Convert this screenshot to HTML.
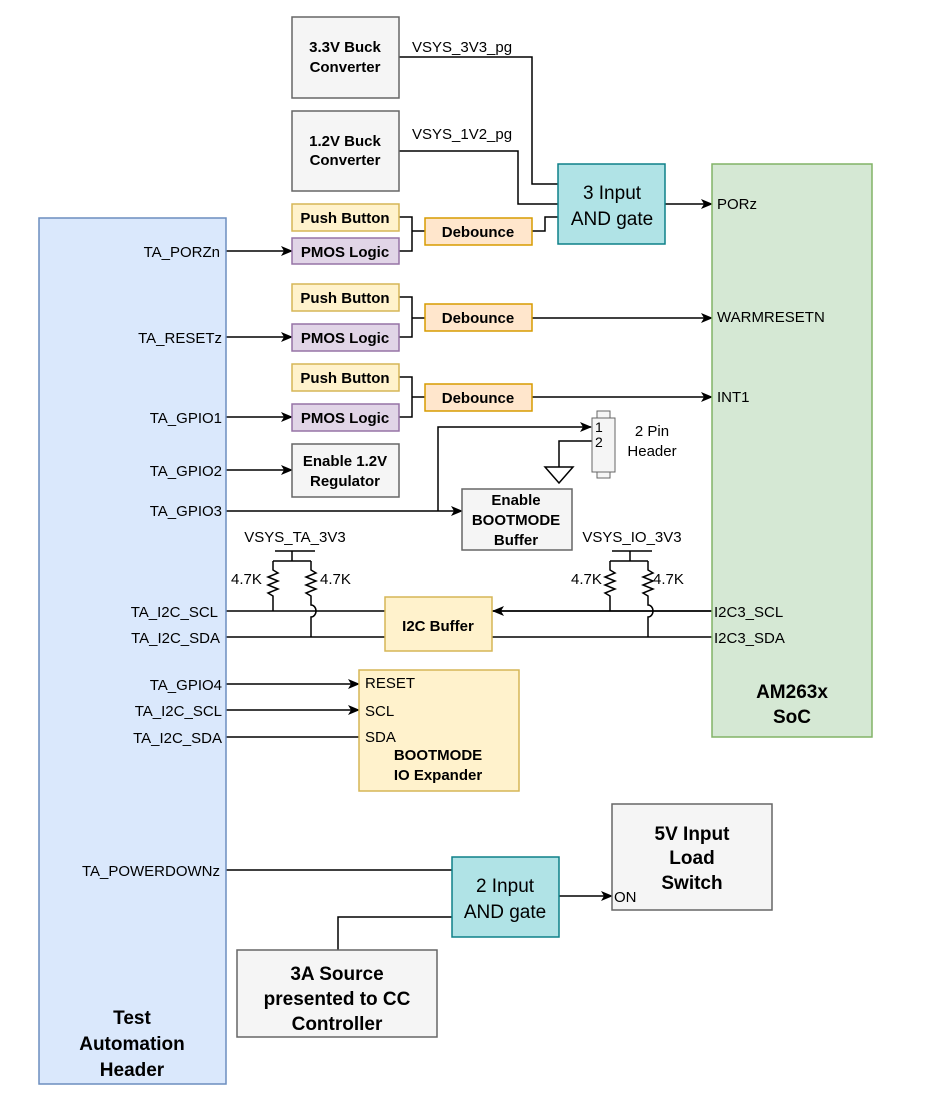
<!DOCTYPE html>
<html><head><meta charset="utf-8"><style>
html,body{margin:0;padding:0;background:#fff;}
svg{display:block;font-family:"Liberation Sans",Arial,sans-serif;}
.l{font-size:15px;fill:#000;}
.b{font-size:15px;font-weight:bold;fill:#000;}
.B{font-size:19px;font-weight:bold;fill:#000;}
</style></head><body>
<svg width="937" height="1098" viewBox="0 0 937 1098" xmlns="http://www.w3.org/2000/svg">
<defs><marker id="a" markerWidth="12" markerHeight="12" refX="11" refY="6" orient="auto" markerUnits="userSpaceOnUse"><path d="M0,1 L12,6 L0,11 L3,6 Z" fill="#000"/></marker></defs>
<g stroke="#000" stroke-width="1.5" fill="none">
<path d="M399,57 H532 V184 H558"/>
<path d="M399,151 H518 V204 H558"/>
<path d="M665,204 H712" marker-end="url(#a)"/>
<path d="M399,217 H412 V251 H399 M412,231 H425"/>
<path d="M532,231 H545 V217 H558"/>
<path d="M226,251 H292" marker-end="url(#a)"/>
<path d="M399,297 H412 V337 H399 M412,318 H425"/>
<path d="M532,318 H712" marker-end="url(#a)"/>
<path d="M226,337 H292" marker-end="url(#a)"/>
<path d="M399,377 H412 V417 H399 M412,397 H425"/>
<path d="M532,397 H712" marker-end="url(#a)"/>
<path d="M226,417 H292" marker-end="url(#a)"/>
<path d="M226,470 H292" marker-end="url(#a)"/>
<path d="M226,511 H462" marker-end="url(#a)"/>
<path d="M438,511 V427 H591" marker-end="url(#a)"/>
<path d="M592,441 H559 V467"/>
<path d="M545,467 H573 L559,483 Z"/>
<path d="M226,611 H385 M492,611 H712"/>
<path d="M712,611 H493" marker-end="url(#a)"/>
<path d="M226,637 H712"/>
<path d="M275,551 H315 M292,551 V561 M273,561 H311"/>
<path d="M273,561 V570 l5,3 -10,4 10,4 -10,4 10,4 -10,4 5,3 V611"/>
<path d="M311,561 V570 l5,3 -10,4 10,4 -10,4 10,4 -10,4 5,3 V605 a5,6 0 0 1 0,12 V637"/>
<path d="M612,551 H652 M630,551 V561 M610,561 H648"/>
<path d="M610,561 V570 l5,3 -10,4 10,4 -10,4 10,4 -10,4 5,3 V611"/>
<path d="M648,561 V570 l5,3 -10,4 10,4 -10,4 10,4 -10,4 5,3 V605 a5,6 0 0 1 0,12 V637"/>
<path d="M226,684 H359" marker-end="url(#a)"/>
<path d="M226,710 H359" marker-end="url(#a)"/>
<path d="M226,737 H359"/>
<path d="M226,870 H452"/>
<path d="M338,950 V917 H452"/>
<path d="M559,896 H612" marker-end="url(#a)"/>
</g>
<g stroke-width="1.5">
<rect x="39" y="218" width="187" height="866" fill="#dae8fc" stroke="#6c8ebf"/>
<rect x="712" y="164" width="160" height="573" fill="#d5e8d4" stroke="#82b366"/>
<rect x="292" y="17" width="107" height="81" fill="#f5f5f5" stroke="#666"/>
<rect x="292" y="111" width="107" height="80" fill="#f5f5f5" stroke="#666"/>
<rect x="558" y="164" width="107" height="80" fill="#b0e3e6" stroke="#0e8088"/>
<rect x="292" y="204" width="107" height="27" fill="#fff2cc" stroke="#d6b656"/>
<rect x="292" y="238" width="107" height="26" fill="#e1d5e7" stroke="#9673a6"/>
<rect x="425" y="218" width="107" height="27" fill="#ffe6cc" stroke="#d79b00"/>
<rect x="292" y="284" width="107" height="27" fill="#fff2cc" stroke="#d6b656"/>
<rect x="292" y="324" width="107" height="27" fill="#e1d5e7" stroke="#9673a6"/>
<rect x="425" y="304" width="107" height="27" fill="#ffe6cc" stroke="#d79b00"/>
<rect x="292" y="364" width="107" height="27" fill="#fff2cc" stroke="#d6b656"/>
<rect x="292" y="404" width="107" height="27" fill="#e1d5e7" stroke="#9673a6"/>
<rect x="425" y="384" width="107" height="27" fill="#ffe6cc" stroke="#d79b00"/>
<rect x="292" y="444" width="107" height="53" fill="#f5f5f5" stroke="#666"/>
<rect x="462" y="489" width="110" height="61" fill="#f5f5f5" stroke="#666"/>
<rect x="597" y="411" width="13" height="7" fill="#f5f5f5" stroke="#666" stroke-width="1"/>
<rect x="597" y="472" width="13" height="6" fill="#f5f5f5" stroke="#666" stroke-width="1"/>
<rect x="592" y="418" width="23" height="54" fill="#f5f5f5" stroke="#666" stroke-width="1"/>
<rect x="385" y="597" width="107" height="54" fill="#fff2cc" stroke="#d6b656"/>
<rect x="359" y="670" width="160" height="121" fill="#fff2cc" stroke="#d6b656"/>
<rect x="452" y="857" width="107" height="80" fill="#b0e3e6" stroke="#0e8088"/>
<rect x="612" y="804" width="160" height="106" fill="#f5f5f5" stroke="#666"/>
<rect x="237" y="950" width="200" height="87" fill="#f5f5f5" stroke="#666"/>
</g>
<g class="b" text-anchor="middle">
<text x="345" y="52">3.3V Buck</text><text x="345" y="72">Converter</text>
<text x="345" y="146">1.2V Buck</text><text x="345" y="165">Converter</text>
<text x="345" y="223">Push Button</text><text x="345" y="257">PMOS Logic</text><text x="478" y="237">Debounce</text>
<text x="345" y="303">Push Button</text><text x="345" y="343">PMOS Logic</text><text x="478" y="323">Debounce</text>
<text x="345" y="383">Push Button</text><text x="345" y="423">PMOS Logic</text><text x="478" y="403">Debounce</text>
<text x="345" y="466">Enable 1.2V</text><text x="345" y="486">Regulator</text>
<text x="516" y="505">Enable</text><text x="516" y="525">BOOTMODE</text><text x="516" y="545">Buffer</text>
<text x="438" y="631">I2C Buffer</text>
<text x="438" y="760">BOOTMODE</text><text x="438" y="780">IO Expander</text>
</g>
<g class="B" text-anchor="middle">
<text x="792" y="698">AM263x</text><text x="792" y="723">SoC</text>
<text x="692" y="840">5V Input</text><text x="692" y="864">Load</text><text x="692" y="889">Switch</text>
<text x="337" y="980">3A Source</text><text x="337" y="1005">presented to CC</text><text x="337" y="1030">Controller</text>
<text x="132" y="1024">Test</text><text x="132" y="1050">Automation</text><text x="132" y="1076">Header</text>
</g>
<g class="l" style="font-size:19px" text-anchor="middle">
<text x="612" y="199">3 Input</text><text x="612" y="225">AND gate</text>
<text x="505" y="892">2 Input</text><text x="505" y="918">AND gate</text>
</g>
<g class="l">
<text x="412" y="52">VSYS_3V3_pg</text><text x="412" y="139">VSYS_1V2_pg</text>
<text x="717" y="209">PORz</text><text x="717" y="322">WARMRESETN</text><text x="717" y="402">INT1</text>
<text x="595" y="432" style="font-size:14px">1</text><text x="595" y="447" style="font-size:14px">2</text>
<text x="652" y="436" text-anchor="middle">2 Pin</text><text x="652" y="456" text-anchor="middle">Header</text>
<text x="295" y="542" text-anchor="middle">VSYS_TA_3V3</text><text x="632" y="542" text-anchor="middle">VSYS_IO_3V3</text>
<text x="231" y="584">4.7K</text><text x="320" y="584">4.7K</text>
<text x="571" y="584">4.7K</text><text x="653" y="584">4.7K</text>
<text x="714" y="617">I2C3_SCL</text><text x="714" y="643">I2C3_SDA</text>
<text x="365" y="688">RESET</text><text x="365" y="716">SCL</text><text x="365" y="742">SDA</text>
<text x="614" y="902">ON</text>
</g>
<g class="l" text-anchor="end">
<text x="220" y="257">TA_PORZn</text><text x="222" y="343">TA_RESETz</text><text x="222" y="423">TA_GPIO1</text>
<text x="222" y="476">TA_GPIO2</text><text x="222" y="516">TA_GPIO3</text>
<text x="218" y="617">TA_I2C_SCL</text><text x="220" y="643">TA_I2C_SDA</text>
<text x="222" y="690">TA_GPIO4</text><text x="222" y="716">TA_I2C_SCL</text><text x="222" y="743">TA_I2C_SDA</text>
<text x="220" y="876">TA_POWERDOWNz</text>
</g>
</svg>
</body></html>
